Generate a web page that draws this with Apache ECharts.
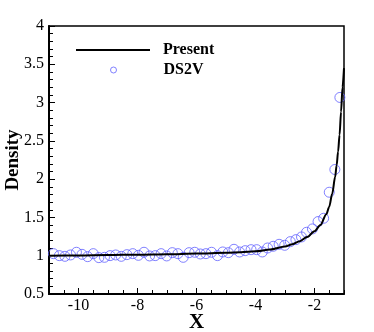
<!DOCTYPE html>
<html lang="en">
<head>
    <meta charset="UTF-8">
    <title>Density</title>
    <script src="https://cdn.jsdelivr.net/npm/echarts@6/dist/echarts.min.js"></script>
    <style>
        body { margin: 0; background: #fff; }
    </style>
</head>
<body>
    <div id="main" style="width: 374px;height:332px;"></div>
    <script type="text/javascript">
        // present solution (line)
        var presentX = [-11, -10, -9, -8, -7, -6, -5, -4.5, -4, -3.5, -3, -2.75, -2.5, -2.25, -2, -1.8, -1.6, -1.5, -1.4, -1.3, -1.25, -1.2, -1.15, -1.1, -1.05, -1.0];
        var presentY = [1.0, 1.004, 1.009, 1.014, 1.02, 1.028, 1.038, 1.046, 1.058, 1.08, 1.12, 1.15, 1.19, 1.245, 1.32, 1.40, 1.54, 1.64, 1.81, 2.03, 2.18, 2.36, 2.58, 2.88, 3.2, 3.45];

        // DS2V samples (circles)
        var ds2vX = [-10.85, -10.65, -10.46, -10.27, -10.07, -9.88, -9.69, -9.5, -9.31, -9.12, -8.93, -8.74, -8.55, -8.36, -8.16, -7.97, -7.78, -7.59, -7.4, -7.2, -7.01, -6.82, -6.63, -6.45, -6.25, -6.06, -5.87, -5.68, -5.49, -5.29, -5.11, -4.92, -4.73, -4.54, -4.35, -4.15, -3.96, -3.77, -3.59, -3.4, -3.2, -3.01, -2.82, -2.63, -2.44, -2.27, -2.07, -1.88, -1.69, -1.5, -1.31, -1.14];
        var ds2vY = [1.027, 1.001, 0.992, 1.01, 1.045, 1.018, 0.988, 1.027, 0.975, 0.979, 1.001, 1.01, 0.992, 1.014, 1.027, 1.005, 1.045, 0.997, 1.001, 1.027, 0.997, 1.04, 1.027, 0.979, 1.04, 1.045, 1.023, 1.027, 1.045, 1.001, 1.049, 1.04, 1.084, 1.049, 1.066, 1.079, 1.079, 1.049, 1.101, 1.123, 1.149, 1.136, 1.184, 1.21, 1.245, 1.306, 1.35, 1.446, 1.489, 1.829, 2.126, 3.067];

        var xMajor = [-10, -8, -6, -4, -2];

        var font = 'Liberation Serif';
        var blue = '#6262ff';
        var myChart = echarts.init(document.getElementById('main'));

        var option = {
            animation: false,
            textStyle: { fontFamily: font, color: '#000' },
            grid: {
                left: 49, right: 30, top: 26, bottom: 38,
                outerBoundsMode: 'none',
                show: true, borderColor: '#000', borderWidth: 1.5
            },
            legend: [
                {
                    data: [{ name: 'Present', icon: 'rect' }],
                    left: 76, top: 42, padding: 0,
                    itemWidth: 74, itemHeight: 2,
                    textStyle: { fontFamily: font, fontSize: 16, fontWeight: 'bold', color: '#000', padding: [0, 0, 0, 8] }
                },
                {
                    data: ['DS2V'],
                    left: 110, top: 62, padding: 0,
                    itemWidth: 6, itemHeight: 6,
                    itemStyle: { borderWidth: 1 },
                    textStyle: { fontFamily: font, fontSize: 16, fontWeight: 'bold', color: '#000', padding: [0, 0, 0, 42] }
                }
            ],
            xAxis: [
                {
                    type: 'value', min: -11, max: -1, interval: 0.5,
                    axisLine: { onZero: false, lineStyle: { color: '#000', width: 2 } },
                    axisTick: { inside: true, length: 4, lineStyle: { color: '#000' } },
                    axisLabel: { show: false },
                    splitLine: { show: false }
                },
                {
                    type: 'value', min: -11, max: -1, position: 'bottom',
                    name: 'X', nameLocation: 'middle', nameGap: 18, nameMoveOverlap: false,
                    nameTextStyle: { fontFamily: font, fontSize: 21, fontWeight: 'bold', color: '#000' },
                    axisLine: { show: false, onZero: false },
                    axisTick: { inside: true, length: 6, customValues: xMajor, lineStyle: { color: '#000' } },
                    axisLabel: { customValues: xMajor, margin: 4, fontFamily: font, fontSize: 16, color: '#000' },
                    splitLine: { show: false }
                }
            ],
            yAxis: {
                type: 'value', min: 0.5, max: 4, interval: 0.5,
                name: 'Density', nameLocation: 'middle', nameGap: 26, nameMoveOverlap: false,
                nameTextStyle: { fontFamily: font, fontSize: 19, fontWeight: 'bold', color: '#000' },
                axisLine: { onZero: false, lineStyle: { color: '#000', width: 2 } },
                axisTick: { inside: true, length: 6, lineStyle: { color: '#000' } },
                minorTick: { show: true, splitNumber: 5, length: 4, lineStyle: { color: '#000' } },
                axisLabel: { margin: 5, fontFamily: font, fontSize: 16, color: '#000' },
                splitLine: { show: false }
            },
            series: [
                {
                    name: 'Present', type: 'line', xAxisIndex: 0,
                    data: presentX.map(function (x, i) { return [x, presentY[i]]; }),
                    symbol: 'none', smooth: 0.3, smoothMonotone: 'x',
                    lineStyle: { color: '#000', width: 2 },
                    itemStyle: { color: '#000' },
                    z: 3
                },
                {
                    name: 'DS2V', type: 'scatter', xAxisIndex: 0,
                    data: ds2vX.map(function (x, i) { return [x, ds2vY[i]]; }),
                    symbol: 'circle', symbolSize: 10,
                    itemStyle: { color: 'rgba(0,0,0,0)', borderColor: blue, borderWidth: 1 },
                    z: 2
                }
            ]
        };
        myChart.setOption(option);
    </script>
</body>
</html>
